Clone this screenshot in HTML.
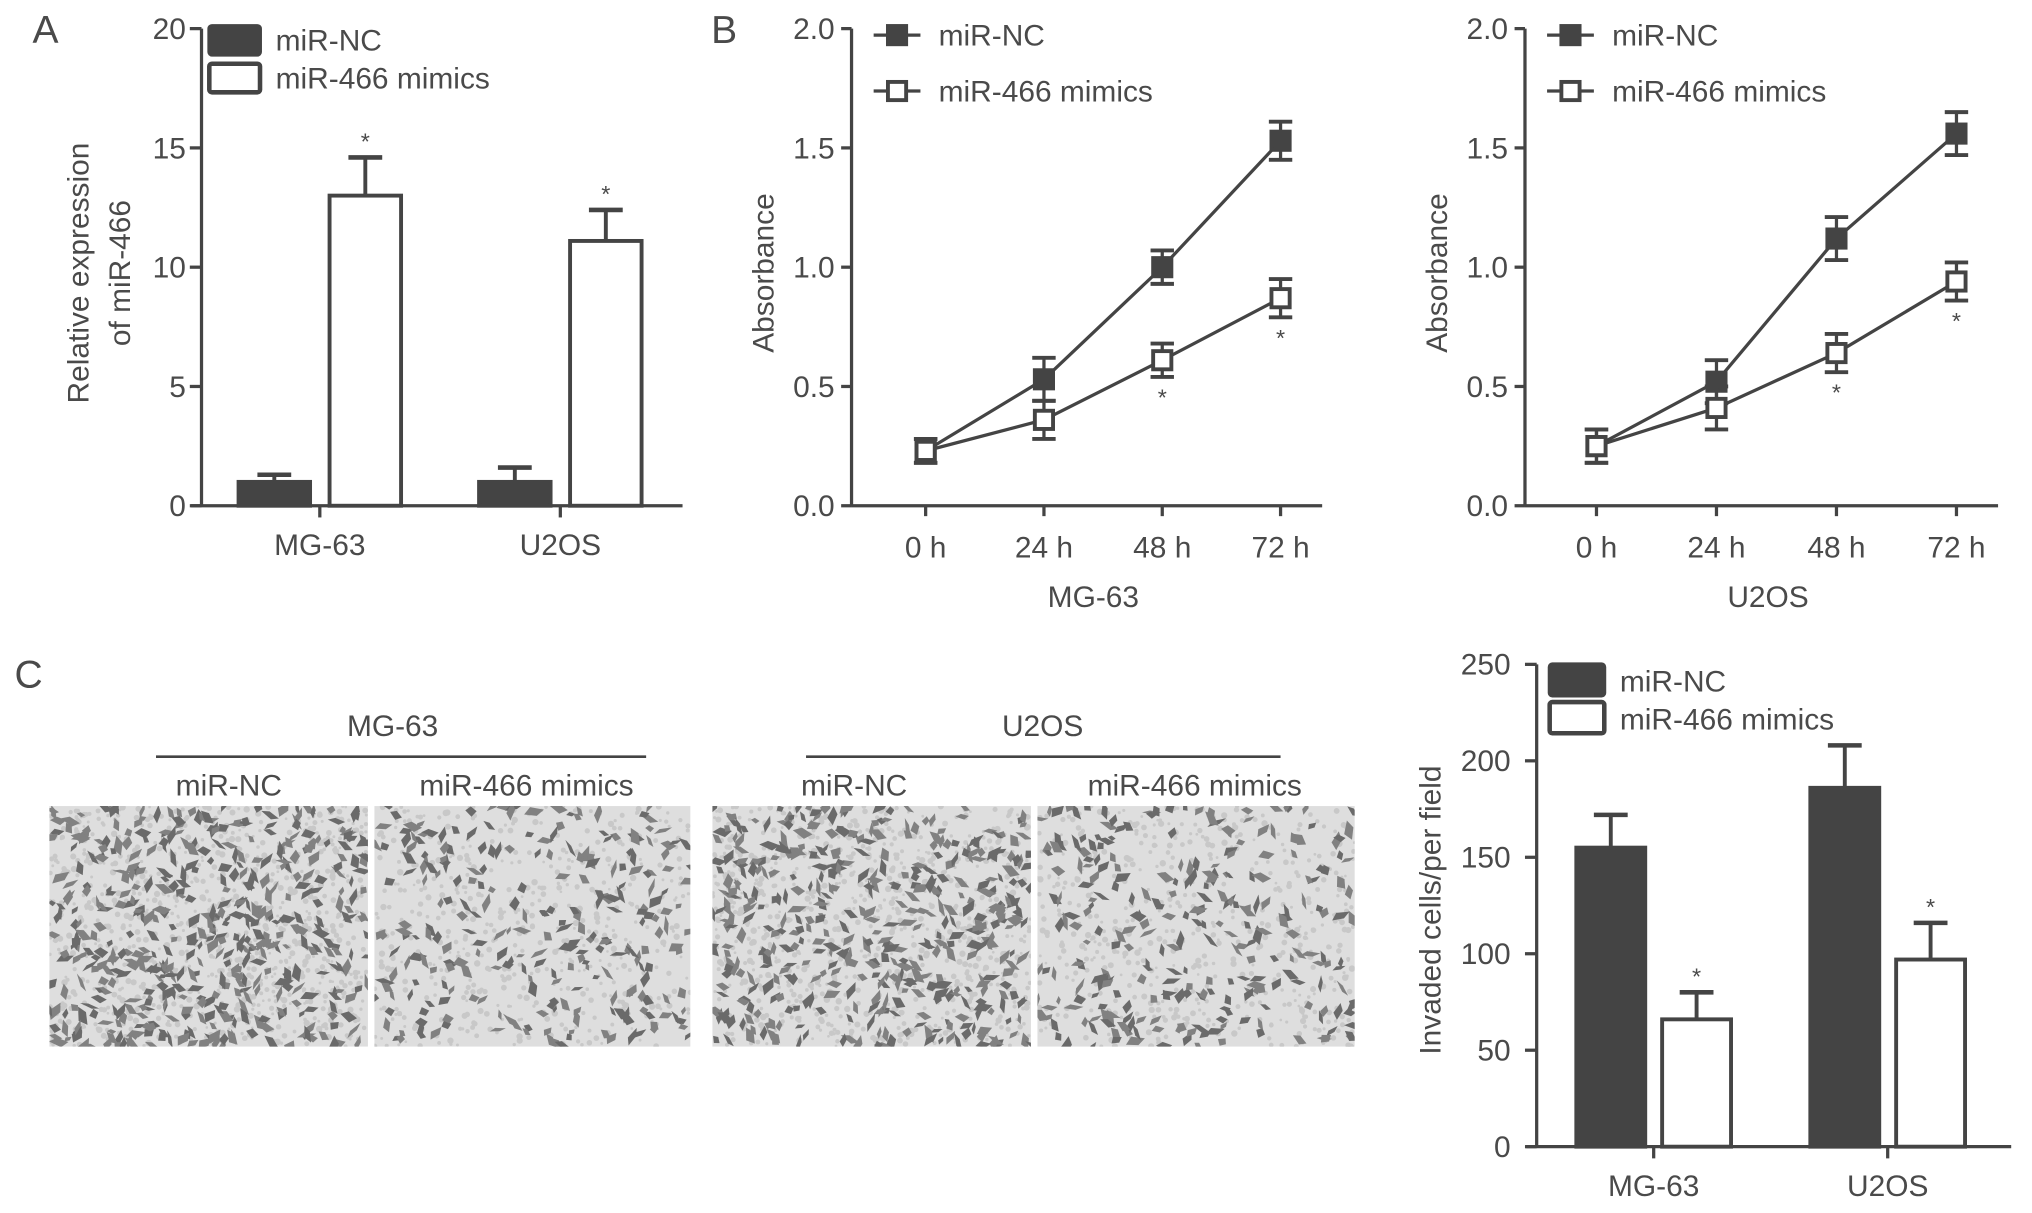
<!DOCTYPE html>
<html><head><meta charset="utf-8"><style>
html,body{margin:0;padding:0;background:#fff;}
svg{display:block;}
text{font-family:"Liberation Sans",sans-serif;fill:#4a4a4a;}
</style></head><body>
<svg id="fig" width="2032" height="1213" viewBox="0 0 1563 933" xmlns="http://www.w3.org/2000/svg"></svg>
<script>
// ---- Panel A data ----
const aCategories = ['MG-63','U2OS'];
const aNC = [1.0, 1.0];
const aNCErr = [0.3, 0.6];
const aMim = [13.0, 11.1];
const aMimErr = [1.6, 1.3];
const aTicks = [0,5,10,15,20];
// ---- Panel B data ----
const bTimes = ['0 h','24 h','48 h','72 h'];
const bMGNC = [0.23, 0.53, 1.00, 1.53];
const bMGNCErr = [0.05, 0.09, 0.07, 0.08];
const bMGMim = [0.23, 0.36, 0.61, 0.87];
const bMGMimErr = [0.05, 0.08, 0.07, 0.08];
const bUNC = [0.25, 0.52, 1.12, 1.56];
const bUNCErr = [0.07, 0.09, 0.09, 0.09];
const bUMim = [0.25, 0.41, 0.64, 0.94];
const bUMimErr = [0.07, 0.09, 0.08, 0.08];
const bTicks = ['0.0','0.5','1.0','1.5','2.0'];
// ---- Panel C data ----
const cCategories = ['MG-63','U2OS'];
const cNC = [155, 186];
const cNCErr = [17, 22];
const cMim = [66, 97];
const cMimErr = [14, 19];
const cTicks = [0,50,100,150,200,250];

const NS='http://www.w3.org/2000/svg';
const svg=document.getElementById('fig');
function el(tag,attrs,parent){const e=document.createElementNS(NS,tag);for(const k in attrs)e.setAttribute(k,attrs[k]);(parent||svg).appendChild(e);return e;}
function txt(x,y,s,size,anchor,parent,rot){const t=el('text',{x:x,y:y,'font-size':size,'text-anchor':anchor||'middle'},parent);if(rot)t.setAttribute('transform','rotate(-90 '+x+' '+y+')');t.textContent=s;return t;}
const INK='#444';

let t;
t=txt(35,33,'A',30,'middle');
t=txt(557,33,'B',30,'middle');
t=txt(22,529,'C',30,'middle');

function barChart(cfg){
  const g=el('g',{});
  
  
  const y=v=>cfg.y0-(v-cfg.min)/(cfg.max-cfg.min)*(cfg.y0-cfg.y1);
  el('line',{x1:cfg.ax,y1:cfg.y0,x2:cfg.ax,y2:cfg.y1,stroke:INK,'stroke-width':2.5},g);
  el('line',{x1:cfg.ax-8,y1:cfg.y0,x2:cfg.xend,y2:cfg.y0,stroke:INK,'stroke-width':2.5},g);
  cfg.ticks.forEach(v=>{
    el('line',{x1:cfg.ax-9,y1:y(v),x2:cfg.ax,y2:y(v),stroke:INK,'stroke-width':2.5},g);
    const tl=txt(cfg.ax-(cfg.tickOff||12),y(v)+8,String(v),cfg.tickSize||23,'end',g);
    
    
  });
  const yt=el('g',{},g);
  
  
  cfg.title.forEach((s,i)=>txt(cfg.titleX[i],cfg.titleY,s,23,'middle',yt,true));
  cfg.cats.forEach((c,i)=>{
    const cx=cfg.catX[i];
    const w=cfg.barW;
    [[cfg.nc[i],cfg.ncErr[i],cx-cfg.gap/2-w,true],[cfg.mim[i],cfg.mimErr[i],cx+cfg.gap/2,false]].forEach(([v,e,x,fill])=>{
      const top=y(v);
      const eb=el('line',{x1:x+w/2,y1:top,x2:x+w/2,y2:y(v+e),stroke:INK,'stroke-width':3},g);
      
      
      el('line',{x1:x+w/2-13,y1:y(v+e),x2:x+w/2+13,y2:y(v+e),stroke:INK,'stroke-width':3.5},g);
      const r=el('rect',{x:x+1.5,y:top,width:w-3,height:cfg.y0-top,fill:fill?INK:'#fff',stroke:INK,'stroke-width':3},g);
      
      
      if(!fill){const s=txt(x+w/2,y(v+e)-6,'*',18,'middle',g);}
    });
    el('line',{x1:cx,y1:cfg.y0,x2:cx,y2:cfg.y0+9,stroke:INK,'stroke-width':2.5},g);
    const xl=txt(cx,cfg.y0+38,c,23,'middle',g);
    
    
  });
  const lg=el('g',{},g);
  
  
  const L=cfg.leg;
  el('rect',{x:L.x,y:L.y,width:L.w,height:L.h,fill:INK,stroke:INK,'stroke-width':3,rx:2},lg);
  el('rect',{x:L.x,y:L.y+L.dy,width:L.w,height:L.h,fill:'#fff',stroke:INK,'stroke-width':3.5,rx:2},lg);
  txt(L.x+L.w+12,L.y+L.h-3,'miR-NC',23,'start',lg);
  txt(L.x+L.w+12,L.y+L.dy+L.h-3,'miR-466 mimics',23,'start',lg);
}

barChart({name:'panel-a-chart',ax:155,xend:525,y0:389,y1:22,min:0,max:20,ticks:aTicks,cats:aCategories,
  catX:[246,431],barW:58,gap:12,nc:aNC,ncErr:aNCErr,mim:aMim,mimErr:aMimErr,
  title:['Relative expression','of miR-466'],titleX:[68,100],titleY:210,
  leg:{x:161,y:20,w:39,h:22,dy:29}});

barChart({name:'panel-c-chart',ax:1182,xend:1547,y0:882,y1:511,min:0,max:250,ticks:cTicks,cats:cCategories,
  catX:[1272,1452],barW:56,gap:10,nc:cNC,ncErr:cNCErr,mim:cMim,mimErr:cMimErr,tickSize:23,tickOff:20,
  title:['Invaded cells/per field'],titleX:[1108],titleY:700,
  leg:{x:1192,y:511,w:42,h:24,dy:29}});

function lineChart(cfg){
  const g=el('g',{});
  
  
  const y=v=>cfg.y0-v/2*(cfg.y0-cfg.y1);
  const x=i=>cfg.x0+i*cfg.dx;
  el('line',{x1:cfg.ax,y1:cfg.y0,x2:cfg.ax,y2:cfg.y1,stroke:INK,'stroke-width':2.5},g);
  el('line',{x1:cfg.ax,y1:cfg.y0,x2:x(3)+32,y2:cfg.y0,stroke:INK,'stroke-width':2.5},g);
  bTicks.forEach(s=>{const v=parseFloat(s);
    el('line',{x1:cfg.ax-8,y1:y(v),x2:cfg.ax,y2:y(v),stroke:INK,'stroke-width':2.5},g);
    const tl=txt(cfg.ax-13,y(v)+8,s,23,'end',g);
    
    
  });
  bTimes.forEach((s,i)=>{
    el('line',{x1:x(i),y1:cfg.y0,x2:x(i),y2:cfg.y0+8,stroke:INK,'stroke-width':2.5},g);
    const tl=txt(x(i),cfg.y0+40,s,23,'middle',g);
    
    
  });
  let xt=txt((cfg.ax+x(3)+32)/2+5,cfg.y0+78,cfg.label,23,'middle',g);
  
  
  let yt=txt(cfg.ax-60,210,'Absorbance',23,'middle',g,true);
  
  
  [[cfg.nc,cfg.ncErr,true],[cfg.mim,cfg.mimErr,false]].forEach(([vals,errs,fill])=>{
    const s=el('g',{},g);
    
    
    el('polyline',{points:vals.map((v,i)=>x(i)+','+y(v)).join(' '),fill:'none',stroke:INK,'stroke-width':2.5},s);
    vals.forEach((v,i)=>{
      const e=errs[i];
      el('line',{x1:x(i),y1:y(v+e),x2:x(i),y2:y(v-e),stroke:INK,'stroke-width':2.5},s);
      el('line',{x1:x(i)-9,y1:y(v+e),x2:x(i)+9,y2:y(v+e),stroke:INK,'stroke-width':3},s);
      el('line',{x1:x(i)-9,y1:y(v-e),x2:x(i)+9,y2:y(v-e),stroke:INK,'stroke-width':3},s);
      const m=el('rect',{x:x(i)-7,y:y(v)-7,width:14,height:14,fill:fill?INK:'#fff',stroke:INK,'stroke-width':3},s);
      
      
      if(!fill && i>=2){const st=txt(x(i),y(v-e)+22,'*',18,'middle',s);}
    });
  });
  const lg=el('g',{},g);
  
  
  const lx=cfg.ax+17;
  [[27,'miR-NC',true],[70,'miR-466 mimics',false]].forEach(([ly,s,f])=>{
    el('line',{x1:lx,y1:ly,x2:lx+36,y2:ly,stroke:INK,'stroke-width':2.5},lg);
    el('rect',{x:lx+11,y:ly-7,width:14,height:14,fill:f?INK:'#fff',stroke:INK,'stroke-width':3},lg);
    txt(lx+50,ly+8,s,23,'start',lg);
  });
}
lineChart({name:'panel-b-mg63-chart',ax:655,x0:712,dx:91,y0:389,y1:22,nc:bMGNC,ncErr:bMGNCErr,mim:bMGMim,mimErr:bMGMimErr,label:'MG-63'});
lineChart({name:'panel-b-u2os-chart',ax:1173,x0:1228,dx:92.3,y0:389,y1:22,nc:bUNC,ncErr:bUNCErr,mim:bUMim,mimErr:bUMimErr,label:'U2OS'});

function header(cx,x1,x2,lab,sub1,sub2,s1x,s2x,name){
  const g=el('g',{});
  
  
  txt(cx,566,lab,23,'middle',g);
  el('line',{x1:x1,y1:582,x2:x2,y2:582,stroke:INK,'stroke-width':2},g);
  txt(s1x,612,sub1,23,'middle',g);
  txt(s2x,612,sub2,23,'middle',g);
}
header(302,120,497,'MG-63','miR-NC','miR-466 mimics',176,405,'mg63-header');
header(802,620,985,'U2OS','miR-NC','miR-466 mimics',657,919,'u2os-header');

// Micrographs (decorative texture)
let seed=7;
function rnd(){seed=(seed*16807)%2147483647;return seed/2147483647;}
function micro(x,w,count,name){
  const g=el('g',{});
  
  
  el('rect',{x:x,y:620,width:w,height:185,fill:'#dedede'},g);
  const cp=el('clipPath',{id:name+'-clip'},g);
  el('rect',{x:x,y:620,width:w,height:185},cp);
  const inner=el('g',{'clip-path':'url(#'+name+'-clip)'},g);
  for(let i=0;i<count*2;i++){
    const cx=x+rnd()*w, cy=620+rnd()*185;
    el('circle',{cx:cx,cy:cy,r:1+rnd()*1.5,fill:'#c8c8c8'},inner);
  }
  for(let i=0;i<count;i++){
    const cx=x+rnd()*w, cy=620+rnd()*185;
    const rx=3+rnd()*5, ry=1.5+rnd()*2.5;
    el('polygon',{points:(cx-rx)+','+cy+' '+(cx-rx*0.2)+','+(cy-ry)+' '+(cx+rx)+','+(cy-ry*0.3)+' '+(cx+rx*0.3)+','+(cy+ry),
      fill:rnd()<0.5?'#6a6a6a':'#818181',transform:'rotate('+(rnd()*180)+' '+cx+' '+cy+')'},inner);
  }
}
micro(38,245,480,'micrograph-mg63-nc');
micro(288,243,260,'micrograph-mg63-mimics');
micro(548,245,450,'micrograph-u2os-nc');
micro(798,244,270,'micrograph-u2os-mimics');
</script>
</body></html>
